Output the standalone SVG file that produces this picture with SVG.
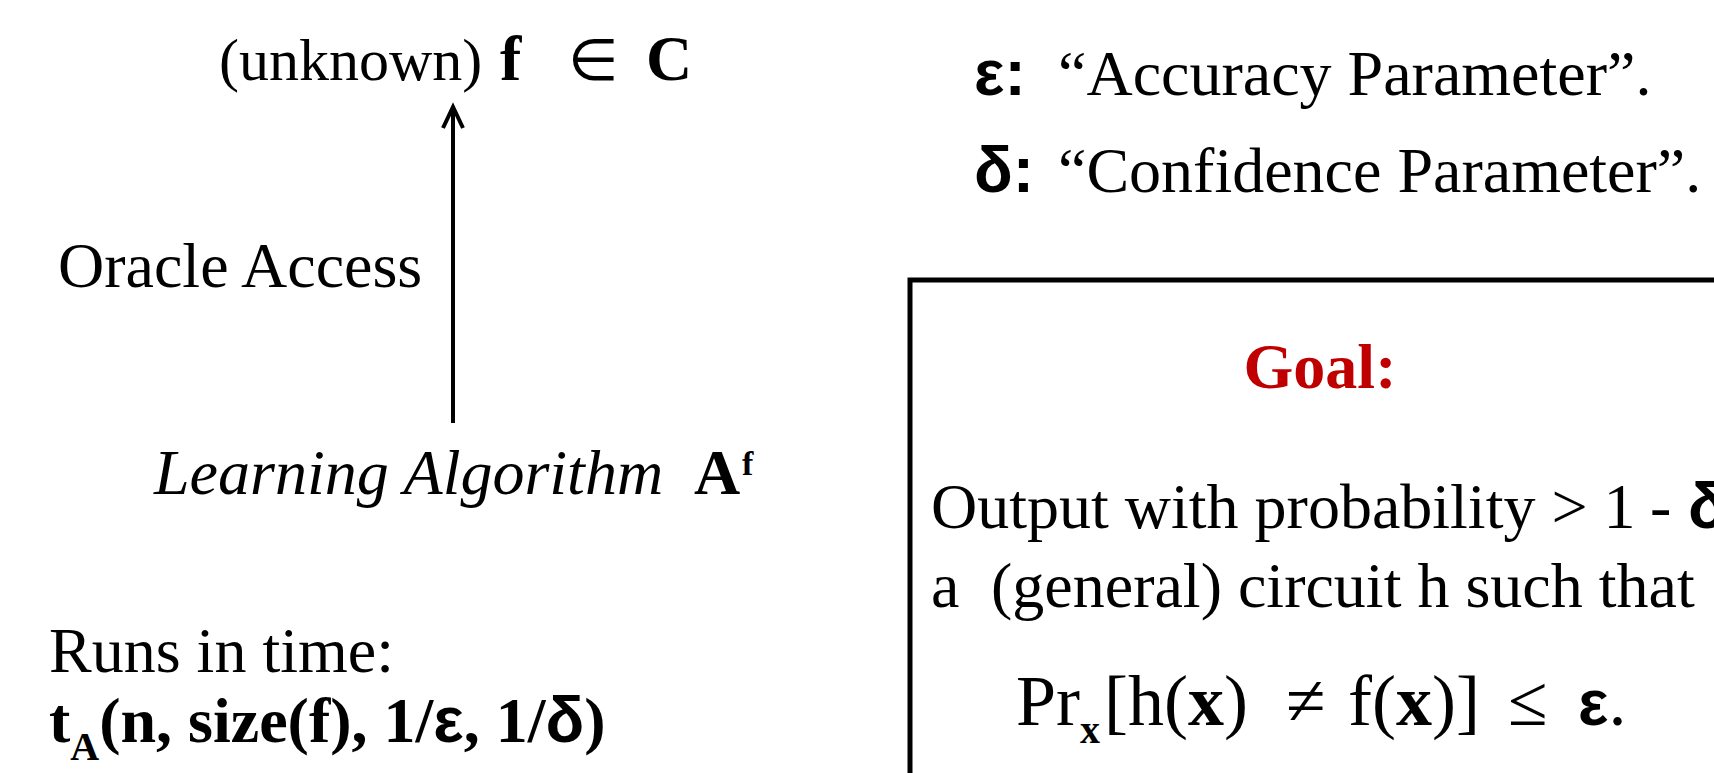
<svg xmlns="http://www.w3.org/2000/svg" width="1714" height="773" viewBox="0 0 1714 773">
<defs>
<style>
.t{font-family:"Liberation Serif","Times New Roman",serif;font-size:64px;fill:#000}
.b{font-weight:bold}
.i{font-style:italic}
.g{font-family:"Liberation Sans",Arial,sans-serif;font-weight:bold}
.sym{font-family:"DejaVu Sans",sans-serif;font-weight:normal}
.red{fill:#c00000}
.sub{font-size:40px}
.sup{font-size:34px}
.big{font-size:72px}
</style>
<marker id="arr" viewBox="0 0 30 26" refX="24" refY="13" markerWidth="30" markerHeight="26" orient="auto" markerUnits="userSpaceOnUse">
<path d="M3,3 L24,13 L3,23" fill="none" stroke="#000" stroke-width="4" stroke-linejoin="miter"/>
</marker>
</defs>
<rect width="1714" height="773" fill="#fff"/>

<g id="connectors">
<line x1="453" y1="423" x2="453" y2="107" stroke="#000" stroke-width="4" marker-end="url(#arr)"/>
</g>

<g id="target">
<text class="t" y="80" font-size="61"><tspan x="219" font-size="60">(unknown)</tspan><tspan x="500" class="b">f</tspan><tspan x="568" class="sym" font-size="58">∈</tspan><tspan x="646" class="b">C</tspan></text>
</g>

<g id="oracle-label">
<text class="t" x="58" y="287" font-size="63">Oracle Access</text>
</g>

<g id="learner">
<text class="t" y="494" font-size="63"><tspan x="154" class="i">Learning Algorithm</tspan><tspan x="694" class="b">A</tspan><tspan x="742" y="475" class="b sup">f</tspan></text>
</g>

<g id="runtime">
<text class="t" x="49" y="672" font-size="65">Runs in time:</text>
<text class="t b" x="49" y="742" font-size="65">t<tspan class="sub" dy="18">A</tspan><tspan dy="-18">(n, size(f), 1/</tspan><tspan class="g">ε</tspan>, 1/<tspan class="g">δ</tspan>)</text>
</g>

<g id="params">
<text class="t" y="95" font-size="64.5"><tspan x="974" class="g">ε:</tspan><tspan x="1058">“Accuracy Parameter”.</tspan></text>
<text class="t" y="192" font-size="64.5"><tspan x="974" class="g">δ:</tspan><tspan x="1058">“Confidence Parameter”.</tspan></text>
</g>

<g id="goal-box">
<rect x="910" y="280" width="900" height="600" fill="none" stroke="#000" stroke-width="5"/>
<text class="t b red" x="1320" y="388" text-anchor="middle">Goal:</text>
<text class="t" y="528"><tspan x="931">Output with probability &gt; 1</tspan><tspan x="1650">-</tspan><tspan x="1688" class="g">δ</tspan></text>
<text class="t" y="607"><tspan x="931">a</tspan><tspan x="991">(general) circuit h such that</tspan></text>
<text class="t big" y="725"><tspan x="1016">Pr</tspan><tspan x="1080" y="743" class="b sub">x</tspan><tspan x="1104" y="725">[h(</tspan><tspan class="b">x</tspan><tspan>)</tspan><tspan x="1286">≠</tspan><tspan x="1348">f(</tspan><tspan class="b">x</tspan><tspan>)]</tspan><tspan x="1508">≤</tspan><tspan x="1578" class="g" font-size="64">ε</tspan><tspan>.</tspan></text>
</g>
</svg>
